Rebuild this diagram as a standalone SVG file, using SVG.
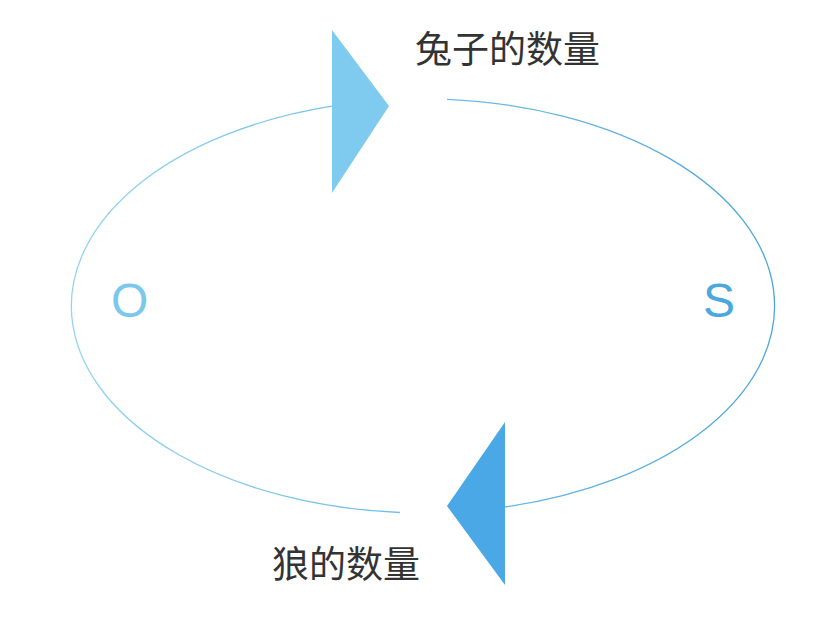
<svg xmlns="http://www.w3.org/2000/svg" width="828" height="620" viewBox="0 0 828 620">
<defs>
<linearGradient id="loop" gradientUnits="userSpaceOnUse" x1="71" y1="0" x2="777" y2="0">
<stop offset="0" stop-color="#95d4f0"/>
<stop offset="1" stop-color="#4aa6dc"/>
</linearGradient>
<style>
.arc{fill:none;stroke:url(#loop);stroke-width:1.3}
.lbl{font-family:"Noto Sans CJK SC","Noto Sans",sans-serif;font-size:37px;fill:#333333}
.axis{font-family:"Liberation Sans",Arial,sans-serif;font-size:48px}
</style>
</defs>
<rect width="828" height="620" fill="#ffffff"/>
<g id="connectors">
<path class="arc" d="M447,99.4 A353,207 0 0 1 505,507"/>
<path class="arc" d="M400,512.5 A353,207 0 0 1 332,106.2"/>
</g>
<g id="arrow-top">
<polygon points="332,30 389,106 332,193" fill="#7ecbef"/>
</g>
<g id="arrow-bottom">
<polygon points="505,422 447,506 505,585" fill="#4aa8e6"/>
</g>
<g id="label-rabbit">
<text class="lbl" x="415" y="63">兔子的数量</text>
</g>
<g id="label-wolf">
<text class="lbl" x="272" y="578">狼的数量</text>
</g>
<g id="label-O">
<text class="axis" x="111" y="317" fill="#7cc8ec">O</text>
</g>
<g id="label-S">
<text class="axis" x="703" y="317" fill="#4aa8dc">S</text>
</g>
</svg>
